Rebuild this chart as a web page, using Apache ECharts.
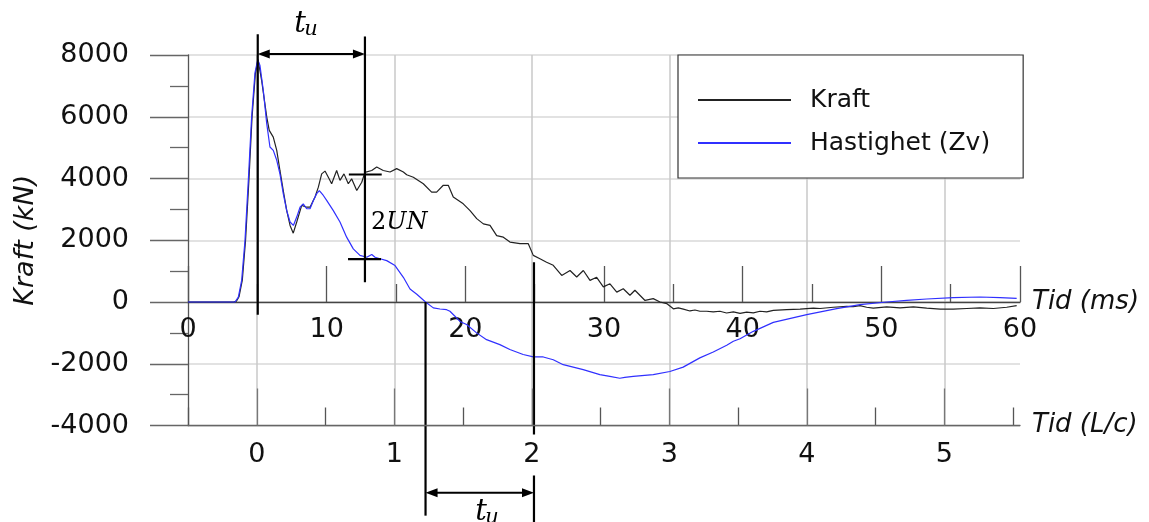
<!DOCTYPE html>
<html>
<head>
<meta charset="utf-8">
<title>Kraft och hastighet</title>
<script src="https://cdn.jsdelivr.net/npm/echarts/dist/echarts.min.js"></script>
<style>
  html, body { margin: 0; padding: 0; background: #fff; }
  #chart { width: 1149px; height: 522px; }
</style>
</head>
<body>
<div id="chart"></div>
<script>
// ---- measured signals (time in ms, force in kN) ----
const kraftMs = [0, 3.3, 3.5, 3.68, 3.92, 4.15, 4.39, 4.62, 4.86, 5.05, 5.31, 5.68, 5.86, 6.15, 6.40, 6.63, 6.87, 7.12, 7.36, 7.59, 7.84, 8.2, 8.56, 8.8, 9.16, 9.4, 9.64, 9.88, 10.12, 10.36, 10.72, 10.96, 11.25, 11.56, 11.8, 12.17, 12.53, 12.76, 13.25, 13.61, 14.08, 14.57, 15.05, 15.53, 15.77, 16.25, 16.97, 17.57, 17.93, 18.41, 18.77, 19.13, 19.85, 20.34, 20.82, 21.3, 21.78, 22.26, 22.74, 23.22, 23.94, 24.54, 24.9, 25.38, 25.86, 26.34, 26.95, 27.55, 28.03, 28.51, 28.99, 29.47, 29.95, 30.43, 30.92, 31.39, 31.87, 32.23, 32.96, 33.55, 34.04, 34.52, 35.0, 35.36, 35.72, 36.2, 36.56, 36.92, 37.4, 37.88, 38.36, 38.84, 39.33, 39.81, 40.29, 40.77, 41.25, 41.73, 42.21, 43.17, 44.14, 45.1, 45.58, 46.54, 47.5, 47.98, 48.46, 48.94, 49.42, 50.39, 51.35, 52.31, 53.27, 54.24, 55.19, 56.16, 57.11, 58.08, 59.04, 59.76];
const kraftKn = [0, 0, 30, 170, 720, 2000, 3930, 6000, 7400, 7850, 7180, 5990, 5560, 5340, 4910, 4260, 3610, 2960, 2480, 2230, 2590, 3130, 3070, 3070, 3400, 3720, 4150, 4240, 4040, 3830, 4260, 3940, 4150, 3830, 3990, 3610, 3880, 4200, 4260, 4370, 4260, 4210, 4320, 4210, 4120, 4040, 3830, 3560, 3560, 3780, 3780, 3400, 3180, 2960, 2700, 2530, 2480, 2150, 2100, 1940, 1890, 1890, 1510, 1400, 1290, 1190, 860, 1020, 810, 1020, 700, 800, 490, 590, 320, 430, 220, 380, 50, 110, 0, -50, -220, -190, -230, -290, -260, -300, -300, -320, -300, -356, -320, -370, -330, -350, -300, -320, -270, -250, -230, -200, -210, -170, -140, -150, -120, -170, -200, -160, -190, -160, -200, -230, -230, -210, -190, -210, -170, -120];

const hastMs = [0, 3.39, 3.63, 3.87, 4.11, 4.35, 4.59, 4.83, 5.03, 5.19, 5.43, 5.68, 5.91, 6.15, 6.4, 6.63, 6.87, 7.12, 7.36, 7.6, 7.84, 8.08, 8.31, 8.56, 8.8, 9.04, 9.28, 9.47, 9.76, 10.0, 10.48, 10.96, 11.44, 11.92, 12.4, 12.89, 13.25, 13.49, 13.85, 14.33, 14.93, 15.53, 16.01, 16.5, 17.13, 17.69, 18.17, 18.65, 18.89, 19.25, 19.61, 20.09, 20.81, 21.53, 22.49, 23.21, 24.17, 24.9, 25.62, 26.34, 27.06, 27.78, 28.5, 29.7, 30.42, 31.14, 31.5, 32.11, 33.55, 34.75, 35.71, 36.91, 37.88, 38.85, 39.33, 39.81, 40.77, 42.21, 44.62, 46.78, 48.46, 50.39, 51.83, 53.27, 55.19, 57.11, 58.56, 59.76];
const hastKn = [0, 0, 156, 700, 1990, 3940, 6010, 7420, 7850, 7660, 6850, 5770, 5020, 4910, 4590, 4150, 3510, 2960, 2590, 2480, 2750, 3070, 3180, 3020, 3020, 3290, 3510, 3610, 3450, 3290, 2960, 2590, 2100, 1720, 1510, 1450, 1540, 1450, 1400, 1340, 1180, 800, 420, 250, 0, -190, -227, -250, -300, -460, -630, -730, -1000, -1220, -1380, -1540, -1700, -1780, -1780, -1870, -2030, -2110, -2190, -2350, -2410, -2470, -2440, -2410, -2350, -2250, -2110, -1810, -1620, -1400, -1270, -1190, -950, -660, -410, -216, -86, 0, 54, 97, 140, 162, 140, 119];

// ---- axis ticks ----
const forceTicks = { min: -4000, max: 8000, step: 2000 };
const msTicks = { min: 0, max: 60, step: 10 };
const lcRange = { min: -0.5, max: 5.55 };
const lcLabels = [0, 1, 2, 3, 4, 5];
const lcHalfTicks = [-0.5, 0.5, 1.5, 2.5, 3.5, 4.5, 5.5];

// ---- reflection-time construction (ms, kN) ----
const guideSegments = [
  [5.03, 8670, 5.03, -410],
  [12.76, 8600, 12.76, 640],
  [17.13, 0, 17.13, -6920],
  [24.95, 1290, 24.95, -7400],
  [11.6, 4130, 13.97, 4130],
  [11.54, 1390, 13.92, 1390]
];
const spanArrows = [
  [5.03, 8030, 12.76, 8030],
  [17.13, -6180, 24.95, -6180]
];
const mathAnchors = [
  [8.08, 9000],
  [15.24, 2576],
  [21.13, -6820]
];
const mathMain = ['t', '2', 't'];
const mathRest = ['', 'UN', ''];
const mathSub = ['u', '', 'u'];

const FONT = 'DejaVu Sans';
const MATH = 'DejaVu Serif';

const zip = (a, b) => a.map((v, i) => [v, b[i]]);
const plain = (v) => String(v);

function renderGuide(params, api) {
  const a = api.coord([api.value(0), api.value(1)]);
  const b = api.coord([api.value(2), api.value(3)]);
  return {
    type: 'line',
    shape: { x1: a[0], y1: a[1], x2: b[0], y2: b[1] },
    style: { stroke: '#000', lineWidth: 2.2 }
  };
}

function renderArrow(params, api) {
  const a = api.coord([api.value(0), api.value(1)]);
  const b = api.coord([api.value(2), api.value(3)]);
  const len = 12, half = 4.5;
  const dir = b[0] > a[0] ? 1 : -1;
  return {
    type: 'group',
    children: [
      { type: 'line', shape: { x1: a[0] + dir * len * 0.6, y1: a[1], x2: b[0] - dir * len * 0.6, y2: b[1] },
        style: { stroke: '#000', lineWidth: 2 } },
      { type: 'polygon', shape: { points: [[a[0], a[1]], [a[0] + dir * len, a[1] - half], [a[0] + dir * len, a[1] + half]] },
        style: { fill: '#000' } },
      { type: 'polygon', shape: { points: [[b[0], b[1]], [b[0] - dir * len, b[1] - half], [b[0] - dir * len, b[1] + half]] },
        style: { fill: '#000' } }
    ]
  };
}

function renderMath(params, api) {
  const i = params.dataIndex;
  const p = api.coord([api.value(0), api.value(1)]);
  const children = [];
  if (mathRest[i]) {
    children.push({
      type: 'text', x: p[0], y: p[1],
      style: {
        text: '{d|' + mathMain[i] + '}{v|' + mathRest[i] + '}',
        align: 'center', verticalAlign: 'middle',
        rich: {
          d: { font: '24px "' + MATH + '"', fill: '#000' },
          v: { font: 'italic 24px "' + MATH + '"', fill: '#000' }
        }
      }
    });
  } else {
    children.push({
      type: 'text', x: p[0], y: p[1],
      style: { text: mathMain[i], font: 'italic 29px "' + MATH + '"', fill: '#000', align: 'center', verticalAlign: 'middle' }
    });
    children.push({
      type: 'text', x: p[0] + 11, y: p[1] + 5,
      style: { text: mathSub[i], font: 'italic 21px "' + MATH + '"', fill: '#000', align: 'center', verticalAlign: 'middle' }
    });
  }
  return { type: 'group', children: children };
}

const chart = echarts.init(document.getElementById('chart'), null, { renderer: 'canvas' });

const labelText = { fontFamily: FONT, fontSize: 27, color: '#111' };
const nameText = { fontFamily: FONT, fontSize: 26, color: '#111', fontStyle: 'italic' };
const plotLeft = 188, plotTop = 55, plotWidth = 832, plotHeight = 370.5;
// upper band ends on the zero line, so its bottom axis is the time axis in ms
const zeroBandHeight = plotHeight * forceTicks.max / (forceTicks.max - forceTicks.min);

chart.setOption({
  animation: false,
  backgroundColor: '#fff',
  grid: [
    { left: plotLeft, top: plotTop, width: plotWidth, height: plotHeight, containLabel: false, outerBoundsMode: 'none' },
    { left: plotLeft, top: plotTop, width: plotWidth, height: zeroBandHeight, containLabel: false, outerBoundsMode: 'none' }
  ],
  legend: {
    orient: 'vertical', left: 678, top: 55,
    padding: [32, 33, 22, 19], itemGap: 17, itemWidth: 93, itemHeight: 14,
    backgroundColor: '#fff', borderColor: '#333', borderWidth: 1.2, borderRadius: 0,
    itemStyle: { opacity: 0 },
    textStyle: { fontFamily: FONT, fontSize: 25, color: '#111', lineHeight: 26, padding: [0, 0, 0, 14] },
    data: ['Kraft', 'Hastighet (Zv)']
  },
  xAxis: [
    {
      // data axis for the curves (drawn by the axis in the upper band)
      gridIndex: 0, type: 'value', min: msTicks.min, max: msTicks.max, interval: msTicks.step,
      show: false
    },
    {
      gridIndex: 1, type: 'value', min: msTicks.min, max: msTicks.max, interval: msTicks.step,
      position: 'bottom',
      axisLine: { show: true, onZero: false, lineStyle: { color: '#444', width: 1.3 } },
      axisTick: { show: true, inside: true, length: 36, lineStyle: { color: '#555', width: 1.3 } },
      minorTick: { show: true, splitNumber: 2, length: 18, lineStyle: { color: '#555', width: 1.3 } },
      axisLabel: Object.assign({ margin: 14, showMinLabel: true, showMaxLabel: true, hideOverlap: false, formatter: plain }, labelText),
      splitLine: { show: false },
      name: 'Tid (ms)', nameLocation: 'end', nameGap: 12,
      nameTextStyle: Object.assign({ align: 'left', verticalAlign: 'middle' }, nameText)
    },
    {
      gridIndex: 0, type: 'value', min: lcRange.min, max: lcRange.max, position: 'bottom', z: 5,
      axisLine: { show: true, onZero: false, lineStyle: { color: '#666', width: 1.3 } },
      axisTick: { show: true, inside: true, length: 37, customValues: lcLabels, lineStyle: { color: '#777', width: 1.3 } },
      axisLabel: Object.assign({ margin: 9, customValues: lcLabels, formatter: plain, backgroundColor: '#fff', padding: [7, 3, 7, 3] }, labelText),
      splitLine: { show: false },
      name: 'Tid (L/c)', nameLocation: 'end', nameGap: 12,
      nameTextStyle: Object.assign({ align: 'left', verticalAlign: 'middle' }, nameText)
    },
    {
      gridIndex: 0, type: 'value', min: lcRange.min, max: lcRange.max, position: 'bottom',
      axisLine: { show: false, onZero: false },
      axisTick: { show: true, inside: true, length: 18, customValues: lcHalfTicks, lineStyle: { color: '#555', width: 1.3 } },
      axisLabel: { show: false },
      splitLine: { show: false }
    },
    {
      gridIndex: 0, type: 'value', min: lcRange.min, max: lcRange.max, position: 'bottom', z: 0,
      axisLine: { show: false, onZero: false },
      axisTick: { show: false, customValues: lcLabels },
      axisLabel: { show: false, customValues: lcLabels },
      splitLine: { show: true, lineStyle: { color: '#c8c8c8', width: 1.5 } }
    }
  ],
  yAxis: [
    {
      gridIndex: 0, type: 'value', min: forceTicks.min, max: forceTicks.max, interval: forceTicks.step,
      position: 'left',
      axisLine: { show: true, onZero: false, lineStyle: { color: '#555', width: 1.3 } },
      axisTick: { show: true, inside: false, length: 38, lineStyle: { color: '#666', width: 1.3 } },
      minorTick: { show: true, splitNumber: 2, length: 18, lineStyle: { color: '#666', width: 1.3 } },
      axisLabel: Object.assign({ margin: 59, showMinLabel: true, showMaxLabel: true, formatter: plain }, labelText),
      splitLine: { show: true, lineStyle: { color: '#e2e2e2', width: 2 } },
      name: 'Kraft (kN)', nameLocation: 'middle', nameGap: 142, nameRotate: 90,
      nameTextStyle: Object.assign({}, nameText, { fontSize: 27 })
    },
    {
      gridIndex: 1, type: 'value', min: 0, max: forceTicks.max, show: false
    }
  ],
  series: [
    {
      type: 'line', name: 'Kraft', xAxisIndex: 0, yAxisIndex: 0,
      data: zip(kraftMs, kraftKn), symbol: 'none', showSymbol: false, z: 3,
      lineStyle: { color: '#222', width: 1.2 }, itemStyle: { color: '#222' }
    },
    {
      type: 'line', name: 'Hastighet (Zv)', xAxisIndex: 0, yAxisIndex: 0,
      data: zip(hastMs, hastKn), symbol: 'none', showSymbol: false, z: 3,
      lineStyle: { color: '#3030ff', width: 1.2 }, itemStyle: { color: '#3030ff' }
    },
    {
      type: 'custom', name: 'guides', xAxisIndex: 0, yAxisIndex: 0, clip: false, z: 4, silent: true,
      renderItem: renderGuide, data: guideSegments
    },
    {
      type: 'custom', name: 'spans', xAxisIndex: 0, yAxisIndex: 0, clip: false, z: 4, silent: true,
      renderItem: renderArrow, data: spanArrows
    },
    {
      type: 'custom', name: 'symbols', xAxisIndex: 0, yAxisIndex: 0, clip: false, z: 4, silent: true,
      renderItem: renderMath, data: mathAnchors
    }
  ]
});
</script>
</body>
</html>
